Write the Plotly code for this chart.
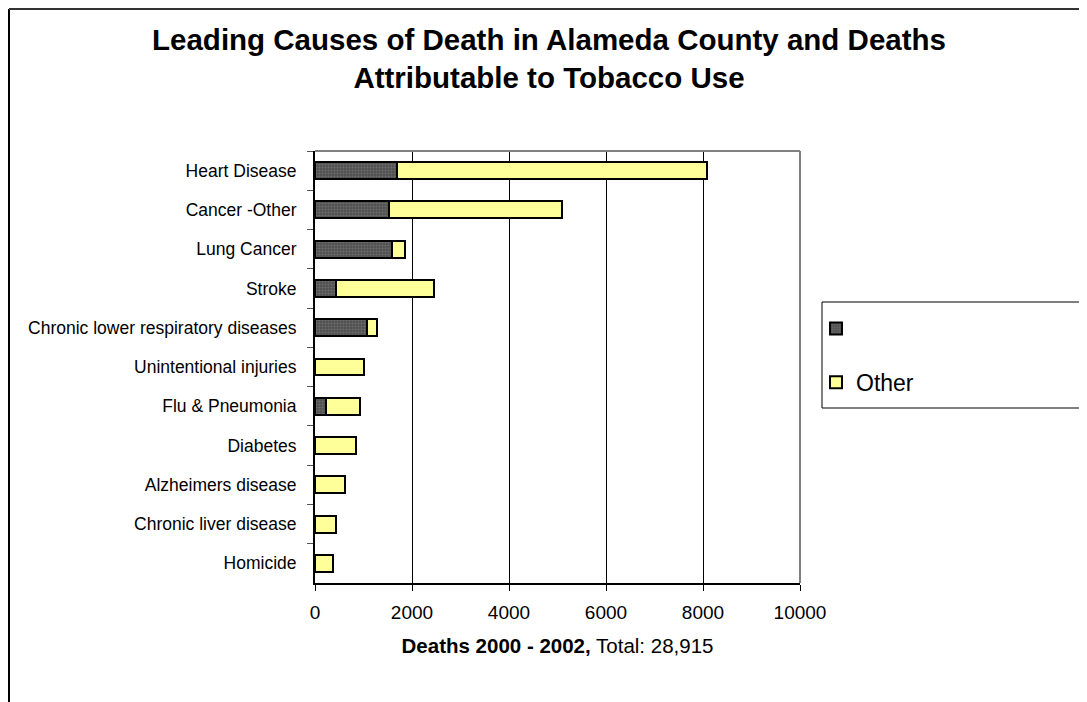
import plotly.graph_objects as go

categories = ["Heart Disease", "Cancer -Other", "Lung Cancer", "Stroke",
              "Chronic lower respiratory diseases", "Unintentional injuries",
              "Flu & Pneumonia", "Diabetes", "Alzheimers disease",
              "Chronic liver disease", "Homicide"]
tobacco = [1700, 1520, 1590, 440, 1080, 0, 220, 0, 0, 0, 0]
other = [6380, 3570, 260, 2020, 200, 1020, 700, 840, 615, 430, 375]
x_ticks = [0, 2000, 4000, 6000, 8000, 10000]

FONT = "Liberation Sans, Arial, sans-serif"
OFF = 8  # page body margin
W, H = 1087, 702
L, T = 315 - OFF, 151 - OFF
PR, PB = 800 - OFF, 583 - OFF
R, B = W - PR, H - PB
pw, ph = PR - L, PB - T

def px_x(p):
    return (p - OFF - L) / pw

def px_y(p):
    return (PB - (p - OFF)) / ph

fig = go.Figure()
fig.add_trace(go.Bar(
    y=categories, x=tobacco, orientation="h", name=" ",
    legendgroup="a",
    marker=dict(color="#5a5a5a", line=dict(color="black", width=2),
                pattern=dict(shape=".", fgcolor="#8a8a8a", bgcolor="#505050",
                             size=3, solidity=0.4)),
))
fig.add_trace(go.Bar(
    y=categories, x=other, orientation="h", name="Other",
    legendgroup="b",
    marker=dict(color="#FFFF99", line=dict(color="black", width=2)),
))

shapes = [
    # outer chart border (left and top)
    dict(type="line", xref="paper", yref="paper", x0=px_x(9), x1=px_x(9),
         y0=px_y(9), y1=px_y(720), line=dict(color="black", width=2)),
    dict(type="line", xref="paper", yref="paper", x0=px_x(9), x1=px_x(1100),
         y0=px_y(9), y1=px_y(9), line=dict(color="#333333", width=2)),
    # plot area top/right gray border
    dict(type="line", xref="paper", yref="paper", x0=0, x1=1, y0=1, y1=1,
         line=dict(color="#808080", width=2)),
    dict(type="line", xref="paper", yref="paper", x0=1, x1=1, y0=0, y1=1,
         line=dict(color="#808080", width=2)),
    # legend box
    dict(type="rect", xref="paper", yref="paper", x0=px_x(822), x1=px_x(1080),
         y0=px_y(408), y1=px_y(302), line=dict(color="black", width=1)),
]

fig.update_layout(
    width=W, height=H,
    margin=dict(l=L, r=R, t=T, b=B),
    paper_bgcolor="white", plot_bgcolor="white",
    barmode="stack", bargap=0.57,
    font=dict(family=FONT, size=17.5, color="black"),
    title=dict(text="<b>Leading Causes of Death in Alameda County and Deaths<br>Attributable to Tobacco Use</b>",
               x=(549 - OFF) / W, xanchor="center", y=1 - 42 / H, yanchor="middle",
               font=dict(family=FONT, size=29.5, color="black")),
    xaxis=dict(range=[0, 10000], tickvals=x_ticks, ticktext=[str(v) for v in x_ticks],
               showgrid=True, gridcolor="black", gridwidth=1, zeroline=False,
               showline=True, linecolor="black", linewidth=2,
               ticks="outside", ticklen=6, tickcolor="black", tickwidth=1,
               ticklabelstandoff=5, tickfont=dict(size=19),
               title=dict(text="<b>Deaths 2000 - 2002,</b> Total: 28,915",
                          font=dict(size=20.5), standoff=17)),
    yaxis=dict(autorange="reversed", showgrid=False, zeroline=False,
               showline=True, linecolor="black", linewidth=2,
               ticks="outside", tickson="boundaries", ticklen=6,
               tickcolor="#555555", tickwidth=1, ticklabelstandoff=13,
               tickfont=dict(size=17.5)),
    legend=dict(x=px_x(816), y=px_y(307), xanchor="left", yanchor="top",
                bgcolor="rgba(0,0,0,0)", borderwidth=0,
                traceorder="grouped", tracegroupgap=21,
                font=dict(size=23), itemwidth=30),
    shapes=shapes,
)

fig.write_html("out.html")
